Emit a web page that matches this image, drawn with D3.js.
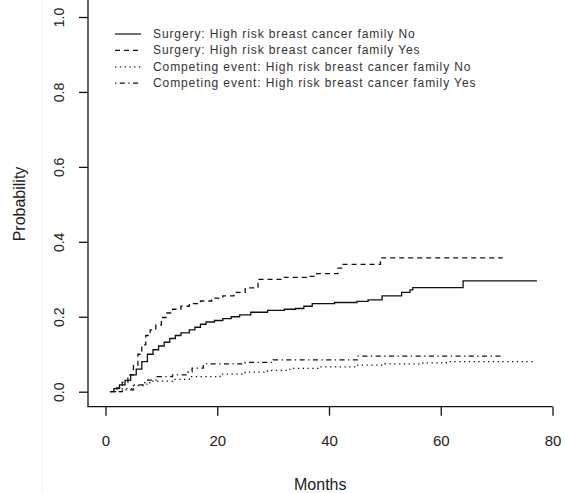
<!DOCTYPE html>
<html>
<head>
<meta charset="utf-8">
<script src="https://cdn.jsdelivr.net/npm/d3@7"></script>
<style>
  body { margin: 0; background: #fff; }
  text { font-family: "Liberation Sans", Arial, sans-serif; fill: #222; }
</style>
</head>
<body>
<div id="chart"></div>
<script>
// cumulative incidence curves (months / probability)
const surgNoTime = [0.8, 1.5, 2.5, 3.5, 4.5, 5.5, 6.5, 7.5, 8.5, 9.5, 10.5, 11.5, 12.5, 13.5, 15, 16, 17, 18, 19.5, 21, 22.5, 24, 26, 29, 32, 34, 35.5, 37, 41, 45, 47, 49.5, 53, 54.5, 55, 64, 77.2]
const surgNoProb = [0, 0.008, 0.018, 0.03, 0.045, 0.06, 0.08, 0.1, 0.112, 0.122, 0.132, 0.142, 0.15, 0.157, 0.165, 0.172, 0.18, 0.186, 0.19, 0.195, 0.2, 0.205, 0.212, 0.217, 0.22, 0.222, 0.228, 0.235, 0.238, 0.241, 0.245, 0.256, 0.265, 0.272, 0.278, 0.296, 0.296]

const surgYesTime = [0.8, 2, 3, 4, 5, 5.8, 6.5, 7.2, 8, 9, 10, 11, 12, 13.5, 15, 17, 19, 21, 23, 25, 27.3, 32, 36, 37.8, 41.6, 42.5, 49.2, 71.1]
const surgYesProb = [0, 0.01, 0.025, 0.045, 0.07, 0.1, 0.125, 0.15, 0.165, 0.178, 0.198, 0.21, 0.22, 0.228, 0.235, 0.242, 0.25, 0.256, 0.265, 0.277, 0.3, 0.305, 0.308, 0.315, 0.33, 0.34, 0.357, 0.357]

const compNoTime = [0.8, 3, 5, 7, 8, 12, 15, 20.5, 25, 29, 33, 38, 45, 50, 56.8, 61, 76.9]
const compNoProb = [0, 0.008, 0.016, 0.024, 0.028, 0.033, 0.04, 0.047, 0.052, 0.057, 0.062, 0.066, 0.071, 0.074, 0.077, 0.08, 0.08]

const compYesTime = [1.5, 3, 5, 7.4, 9.2, 12, 14.8, 15.5, 17.5, 25, 30, 45.2, 71.1]
const compYesProb = [0, 0.005, 0.018, 0.031, 0.04, 0.045, 0.053, 0.063, 0.074, 0.078, 0.085, 0.095, 0.095]

const legendLabels = [
  "Surgery: High risk breast cancer family No",
  "Surgery: High risk breast cancer family Yes",
  "Competing event: High risk breast cancer family No",
  "Competing event: High risk breast cancer family Yes"
]
const xTicks = [0, 20, 40, 60, 80]
const yTicks = [0, 0.2, 0.4, 0.6, 0.8, 1.0]

// R style line types: solid, dashed, dotted, dotdash
const dashes = [null, "5,4", "1.3,3.5", "1.3,3.5,5,3.5"]

const width = 565, height = 493

const svg = d3.select("#chart")
  .append("svg")
  .attr("width", width)
  .attr("height", height)

// faint scan edge at the left of the picture
svg.append("line")
  .attr("x1", 42).attr("x2", 42)
  .attr("y1", 0).attr("y2", height)
  .attr("stroke", "#f1f1f1")

const x = d3.scaleLinear().domain([0, 80]).range([105.5, 552.5])
const y = d3.scaleLinear().domain([0, 1]).range([391.7, 17])

const axisX = 88, axisY = 406.7

/* ______________ axes (L shaped box like bty="l") ______________ */
svg.append("path")
  .attr("d", "M" + axisX + ",0V" + axisY + "H" + x(80))
  .attr("fill", "none")
  .attr("stroke", "#111")
  .attr("stroke-width", 1.3)

const xAxis = svg.append("g")
  .attr("transform", "translate(0," + axisY + ")")
  .call(d3.axisBottom(x).tickValues(xTicks).tickSize(9).tickPadding(20).tickFormat(d3.format("d")))
xAxis.select(".domain").remove()

const yAxis = svg.append("g")
  .attr("transform", "translate(" + axisX + ",0)")
  .call(d3.axisLeft(y).tickValues(yTicks).tickSize(9).tickFormat(d3.format(".1f")))
yAxis.select(".domain").remove()

svg.selectAll(".tick line").attr("stroke", "#111").attr("stroke-width", 1.3)
xAxis.selectAll("text").attr("font-size", 15).attr("fill", "#222")
yAxis.selectAll("text")
  .attr("font-size", 14)
  .attr("fill", "#222")
  .attr("text-anchor", "middle")
  .attr("x", null).attr("dy", null)
  .attr("transform", "translate(-24,0) rotate(-90)")

svg.append("text")
  .attr("x", (axisX + x(80)) / 2)
  .attr("y", 490)
  .attr("text-anchor", "middle")
  .attr("font-size", 16)
  .text("Months")

svg.append("text")
  .attr("transform", "translate(25,204) rotate(-90)")
  .attr("text-anchor", "middle")
  .attr("font-size", 16)
  .text("Probability")

/* ______________ step curves ______________ */
const series = [
  [surgNoTime, surgNoProb],
  [surgYesTime, surgYesProb],
  [compNoTime, compNoProb],
  [compYesTime, compYesProb]
]

const line = d3.line()
  .x(d => x(d[0]))
  .y(d => y(d[1]))
  .curve(d3.curveStepAfter)

series.forEach(function (s, i) {
  svg.append("path")
    .datum(d3.zip(s[0], s[1]))
    .attr("fill", "none")
    .attr("stroke", "#111")
    .attr("stroke-width", 1.3)
    .attr("stroke-dasharray", dashes[i])
    .attr("d", line)
})

/* ______________ legend ______________ */
const legend = svg.append("g").attr("transform", "translate(115,34)")
legendLabels.forEach(function (lab, i) {
  const g = legend.append("g").attr("transform", "translate(0," + (i * 16.4) + ")")
  g.append("line")
    .attr("x1", 0).attr("x2", 26)
    .attr("stroke", "#111")
    .attr("stroke-width", 1.2)
    .attr("stroke-dasharray", dashes[i])
  g.append("text")
    .attr("x", 38)
    .attr("y", 4)
    .attr("font-size", 12)
    .attr("letter-spacing", 0.9)
    .style("fill", "#333")
    .text(lab)
})
</script>
</body>
</html>
